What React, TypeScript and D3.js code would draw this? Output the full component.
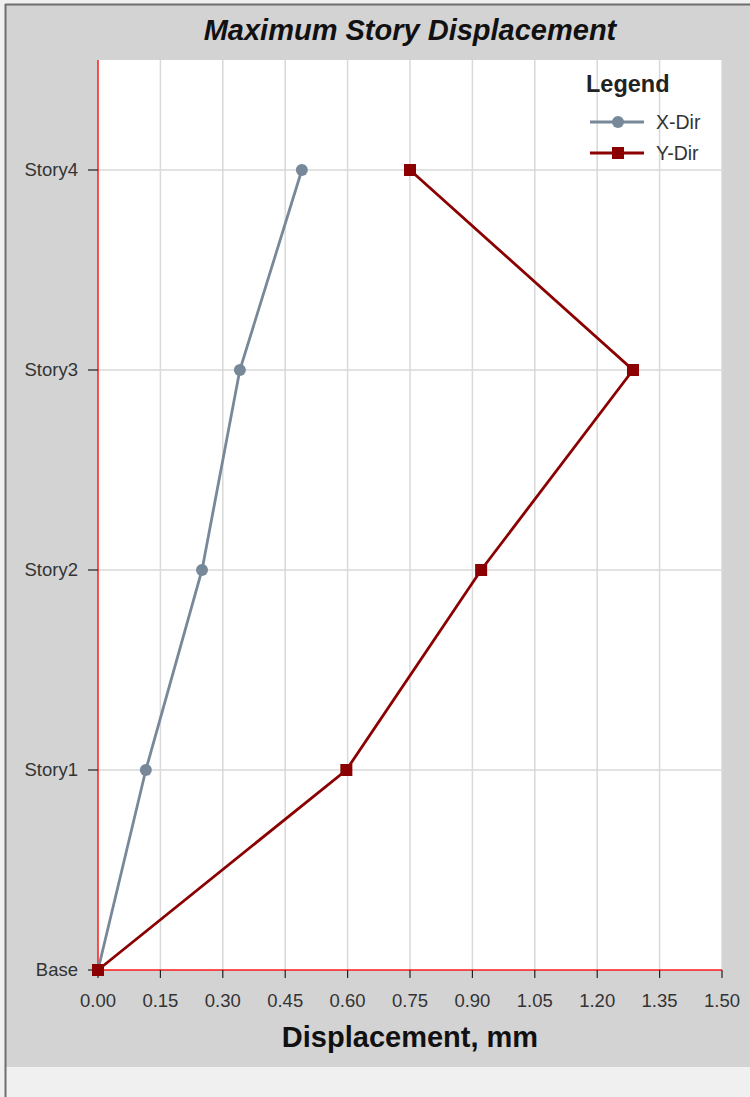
import React from "react";
import * as d3 from "d3";

const stories = ["Base", "Story1", "Story2", "Story3", "Story4"];
const xDir = [0, 0.115, 0.25, 0.341, 0.49];
const yDir = [0, 0.597, 0.921, 1.286, 0.75];
const xTicks = [0, 0.15, 0.3, 0.45, 0.6, 0.75, 0.9, 1.05, 1.2, 1.35, 1.5];
const seriesNames = ["X-Dir", "Y-Dir"];

const W = 750;
const H = 1097;
const left = 98;
const right = 722;
const top = 60;
const bottom = 970;

export default function App() {
  const x = d3.scaleLinear().domain([0, 1.5]).range([left, right]);
  const y = d3.scaleLinear().domain([0, 4.55]).range([bottom, top]);
  const line = d3
    .line<number>()
    .x((d) => x(d))
    .y((_, i) => y(i));
  const font = "'Liberation Sans', Arial, sans-serif";
  const xColor = "#778899";
  const yColor = "#8b0000";

  return (
    <svg
      width={W}
      height={H}
      style={{ position: "absolute", left: 0, top: 0, fontFamily: font }}
    >
      <rect x={0} y={0} width={W} height={H} fill="#f0f0f0" />
      <rect x={5} y={4} width={W + 10} height={1063} fill="#d3d3d3" />
      <line x1={5.5} y1={4} x2={5.5} y2={1097} stroke="#6e6e6e" strokeWidth={2} />
      <line x1={5} y1={4.5} x2={W} y2={4.5} stroke="#6e6e6e" strokeWidth={2} />
      <rect x={left} y={top} width={right - left} height={bottom - top} fill="#ffffff" />
      {/* grid */}
      {xTicks.slice(1).map((t) => (
        <line key={"gx" + t} x1={x(t)} x2={x(t)} y1={top} y2={bottom} stroke="#d9d9d9" strokeWidth={1.5} />
      ))}
      {stories.slice(1).map((s, i) => (
        <line key={"gy" + s} x1={left} x2={right} y1={y(i + 1)} y2={y(i + 1)} stroke="#d9d9d9" strokeWidth={1.5} />
      ))}
      {/* axes */}
      <line x1={left} x2={left} y1={top} y2={bottom} stroke="#ff1a1a" strokeWidth={1.5} />
      <line x1={left} x2={right} y1={bottom} y2={bottom} stroke="#ff1a1a" strokeWidth={1.5} />
      {xTicks.map((t) => (
        <g key={"xt" + t}>
          <line x1={x(t)} x2={x(t)} y1={bottom} y2={bottom + 8} stroke="#222" strokeWidth={1.2} />
          <text x={x(t)} y={bottom + 37} textAnchor="middle" fontSize={18.5} fill="#333">
            {t.toFixed(2)}
          </text>
        </g>
      ))}
      {stories.map((s, i) => (
        <g key={"yt" + s}>
          <line x1={left - 10} x2={left} y1={y(i)} y2={y(i)} stroke="#222" strokeWidth={1.2} />
          <text x={left - 20} y={y(i) + 6} textAnchor="end" fontSize={18.5} fill="#333">
            {s}
          </text>
        </g>
      ))}
      {/* series */}
      <path d={line(xDir) || ""} fill="none" stroke={xColor} strokeWidth={2.8} />
      <path d={line(yDir) || ""} fill="none" stroke={yColor} strokeWidth={2.8} />
      {xDir.map((v, i) => (
        <circle key={"cx" + i} cx={x(v)} cy={y(i)} r={6} fill={xColor} />
      ))}
      {yDir.map((v, i) => (
        <rect key={"ry" + i} x={x(v) - 6} y={y(i) - 6} width={12} height={12} fill={yColor} />
      ))}
      {/* title */}
      <text x={(left + right) / 2} y={40} textAnchor="middle" fontSize={29} fontWeight="bold" fontStyle="italic" fill="#111">
        Maximum Story Displacement
      </text>
      <text x={(left + right) / 2} y={1047} textAnchor="middle" fontSize={29} fontWeight="bold" fill="#111">
        Displacement, mm
      </text>
      {/* legend */}
      <text x={586} y={92} fontSize={23.5} fontWeight="bold" fill="#222">
        Legend
      </text>
      {seriesNames.map((n, i) => {
        const ly = 122 + i * 31;
        const c = i === 0 ? xColor : yColor;
        return (
          <g key={n}>
            <line x1={590} x2={644} y1={ly} y2={ly} stroke={c} strokeWidth={2.8} />
            {i === 0 ? (
              <circle cx={618} cy={ly} r={6} fill={c} />
            ) : (
              <rect x={612} y={ly - 6} width={12} height={12} fill={c} />
            )}
            <text x={656} y={ly + 7} fontSize={19.5} fill="#333">
              {n}
            </text>
          </g>
        );
      })}
    </svg>
  );
}
